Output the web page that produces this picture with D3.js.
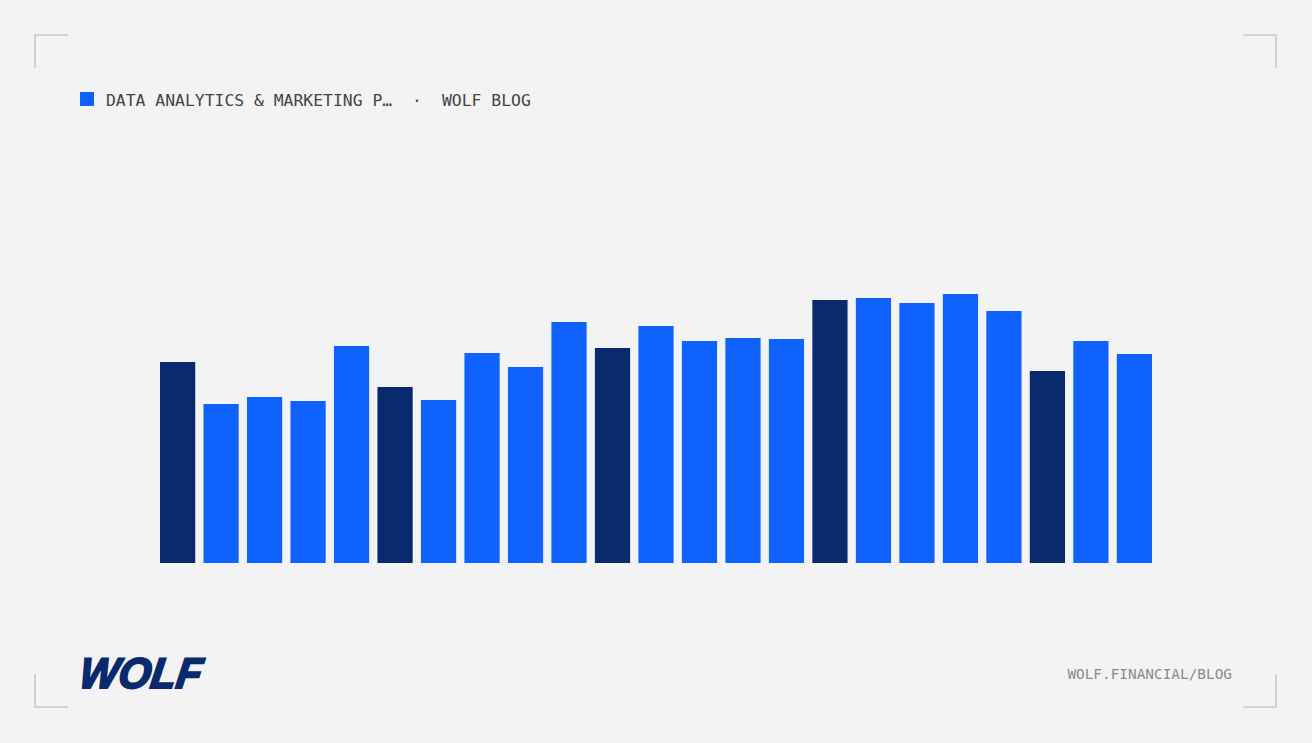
<!DOCTYPE html>
<html>
<head>
<meta charset="utf-8">
<script src="https://cdn.jsdelivr.net/npm/d3@7"></script>
<style>
  html, body { margin: 0; padding: 0; background: #f3f3f3; }
  svg { display: block; }
</style>
</head>
<body>
<div id="chart"></div>
<script>
// data (no axis, so values are relative heights)
const categories = d3.range(1, 24).map(d => "P" + d);
const values = [201, 159, 166, 162, 217, 176, 163, 210, 196, 241, 215, 237,
                222, 225, 224, 263, 265, 260, 269, 252, 192, 222, 209];
const highlighted = ["P1", "P6", "P11", "P16", "P21"];
const seriesName = "DATA ANALYTICS & MARKETING P…";
const sourceName = "WOLF BLOG";
const footerUrl = "WOLF.FINANCIAL/BLOG";

const W = 1312, H = 743;
const colorMain = "#0f62fe";
const colorDark = "#0a2a6e";

const svg = d3.select("#chart").append("svg")
    .attr("width", W)
    .attr("height", H);

svg.append("rect").attr("width", W).attr("height", H).attr("fill", "#f3f3f3");

// corner marks
const corners = [
    [35, 35, 1, 1], [1276, 35, -1, 1],
    [35, 707, 1, -1], [1276, 707, -1, -1]
];
corners.forEach(([cx, cy, dx, dy]) => {
    svg.append("path")
        .attr("d", `M${cx},${cy + dy * 33}V${cy}H${cx + dx * 33}`)
        .attr("fill", "none")
        .attr("stroke", "#d2d2d2")
        .attr("stroke-width", 2);
});

// header / legend
svg.append("rect")
    .attr("x", 80).attr("y", 92)
    .attr("width", 14).attr("height", 14)
    .attr("fill", colorMain);

const mono = "'DejaVu Sans Mono', 'Liberation Mono', monospace";
svg.append("text")
    .attr("x", 106).attr("y", 106)
    .attr("font-family", mono)
    .attr("font-size", 16.4)
    .attr("fill", "#444")
    .text(seriesName);
svg.append("text")
    .attr("x", 417).attr("y", 106)
    .attr("text-anchor", "middle")
    .attr("font-family", mono)
    .attr("font-size", 16.4)
    .attr("fill", "#444")
    .text("·");
svg.append("text")
    .attr("x", 442).attr("y", 106)
    .attr("font-family", mono)
    .attr("font-size", 16.4)
    .attr("fill", "#444")
    .text(sourceName);

// bars
const x = d3.scaleBand()
    .domain(categories)
    .range([160, 1152])
    .paddingInner(0.19)
    .paddingOuter(0);

const y = d3.scaleLinear()
    .domain([0, 100])
    .range([563, 463]);

svg.append("g")
    .selectAll("rect")
    .data(categories)
    .enter()
    .append("rect")
    .attr("x", d => x(d))
    .attr("y", (d, i) => y(values[i]))
    .attr("width", x.bandwidth())
    .attr("height", (d, i) => y(0) - y(values[i]))
    .attr("fill", d => highlighted.includes(d) ? colorDark : colorMain);

// footer logo (wordmark approximated with heavy slanted text)
svg.append("text")
    .attr("transform", "translate(78,688) skewX(-8)")
    .attr("font-family", "'Liberation Sans', Arial, sans-serif")
    .attr("font-weight", 900)
    .attr("font-style", "italic")
    .attr("font-size", 43)
    .attr("textLength", 122)
    .attr("lengthAdjust", "spacingAndGlyphs")
    .attr("fill", colorDark)
    .attr("stroke", colorDark)
    .attr("stroke-width", 2)
    .text("WOLF");

svg.append("text")
    .attr("x", 1232).attr("y", 679)
    .attr("text-anchor", "end")
    .attr("font-family", mono)
    .attr("font-size", 14.4)
    .attr("fill", "#8a8a8a")
    .text(footerUrl);
</script>
</body>
</html>
